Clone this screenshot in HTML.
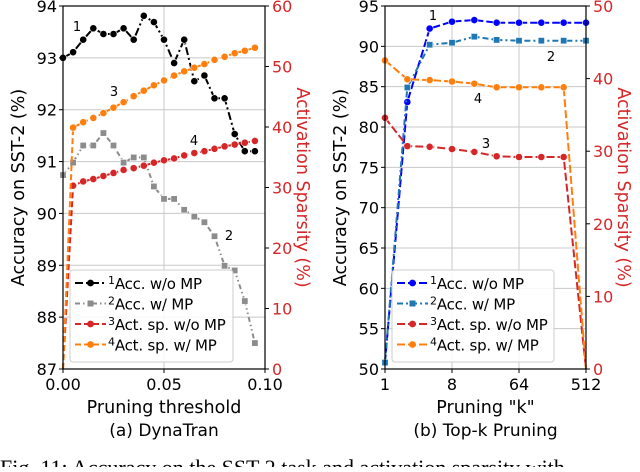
<!DOCTYPE html>
<html><head><meta charset="utf-8"><style>
body{margin:0;background:#fff;width:640px;height:467px;overflow:hidden}
svg{font-family:"DejaVu Sans","Liberation Sans",sans-serif}
</style></head><body>
<svg id="c" width="640" height="467" viewBox="0 0 640 467"></svg>
<script>
// ---- Data: (a) DynaTran ----
const thrX=[0,0.005,0.01,0.015,0.02,0.025,0.03,0.035,0.04,0.045,0.05,0.055,0.06,0.065,0.07,0.075,0.08,0.085,0.09,0.095];
const accNoMP=[93.0,93.11,93.35,93.57,93.46,93.46,93.57,93.35,93.81,93.69,93.35,92.9,93.35,92.55,92.66,92.22,92.22,91.53,91.2,91.2];
const accMP=[90.74,90.98,91.31,91.31,91.55,91.31,90.98,91.08,91.08,90.52,90.28,90.28,90.07,89.94,89.83,89.56,88.99,88.9,88.31,87.5];
const spNoMP=[0,30.3,31.0,31.4,31.9,32.4,32.9,33.2,33.6,34.1,34.5,34.8,35.3,35.7,36.0,36.4,36.8,37.1,37.4,37.7];
const spMP=[0,39.9,40.8,41.5,42.3,43.2,44.1,45.1,46.0,46.9,47.7,48.5,49.2,49.8,50.4,51.1,51.6,52.2,52.6,53.1];
const aYTicks=[87,88,89,90,91,92,93,94];
const aY2Ticks=[0,10,20,30,40,50,60];
const aXTicks=[0,0.05,0.1];
const aXLabels=["0.00","0.05","0.10"];
// ---- Data: (b) Top-k ----
const kVals=[1,2,4,8,16,32,64,128,256,512];
const kAccNoMP=[50.8,83.1,92.2,93.06,93.26,92.93,92.93,92.93,92.93,92.93];
const kAccMP=[50.8,84.9,90.2,90.45,91.2,90.8,90.7,90.7,90.7,90.7];
const kSpNoMP=[34.6,30.7,30.6,30.3,29.9,29.3,29.2,29.2,29.2,0];
const kSpMP=[42.5,39.9,39.8,39.6,39.3,38.8,38.8,38.8,38.8,0];
const bYTicks=[50,55,60,65,70,75,80,85,90,95];
const bY2Ticks=[0,10,20,30,40,50];
const bXTicks=[1,8,64,512];

const NS="http://www.w3.org/2000/svg";
const svg=document.getElementById('c');
function el(tag,attrs,parent,text){const e=document.createElementNS(NS,tag);for(const k in attrs)e.setAttribute(k,attrs[k]);if(text!==undefined)e.textContent=text;(parent||svg).appendChild(e);return e;}

const RED="#d62728",ORANGE="#ff7f0e",GRAY="#8c8c8c",BLUE="#0000ff",TEAL="#1f77b4";

function panel(o){
  const g=el('g',{});
  
  
  const {x0,x1,y0,y1}=o;
  const sx=v=>x0+(o.xf(v)-o.xf(o.xmin))/(o.xf(o.xmax)-o.xf(o.xmin))*(x1-x0);
  const sy=v=>y1-(v-o.ymin)/(o.ymax-o.ymin)*(y1-y0);
  const sy2=v=>y1-(v-o.y2min)/(o.y2max-o.y2min)*(y1-y0);
  o.xt.forEach(v=>{const l=el('line',{x1:sx(v),x2:sx(v),y1:y0,y2:y1,stroke:"#c8c8c8","stroke-width":1},g);});
  o.yt.forEach(v=>{const l=el('line',{x1:x0,x2:x1,y1:sy(v),y2:sy(v),stroke:"#c8c8c8","stroke-width":1},g);});
  o.series.forEach(s=>{
    const ys=s.right?sy2:sy;
    const pts=s.x.map((xv,i)=>sx(xv).toFixed(1)+","+ys(s.y[i]).toFixed(1)).join(" ");
    const pl=el('polyline',{points:pts,fill:"none",stroke:s.c,"stroke-width":2,"stroke-dasharray":s.dash},g);
    
    
    s.x.forEach((xv,i)=>{
      if(s.skip&&s.skip.includes(i))return;
      const cx=sx(xv),cy=ys(s.y[i]);
      let m;
      if(s.sq)m=el('rect',{x:cx-3.2,y:cy-3.2,width:6.4,height:6.4,fill:s.c,stroke:"#fff","stroke-width":0.6},g);
      else m=el('circle',{cx:cx,cy:cy,r:3.6,fill:s.c,stroke:"#fff","stroke-width":0.6},g);
      
      
    });
  });
  const fr=el('rect',{x:x0,y:y0,width:x1-x0,height:y1-y0,fill:"none",stroke:"#000","stroke-width":1.2},g);
  
  o.xt.forEach((v,i)=>{el('line',{x1:sx(v),x2:sx(v),y1:y1,y2:y1+4,stroke:"#000"},g);
    const t=el('text',{x:sx(v),y:y1+21,"text-anchor":"middle","font-size":16},g,o.xl[i]);});
  o.yt.forEach(v=>{el('line',{x1:x0-4,x2:x0,y1:sy(v),y2:sy(v),stroke:"#000"},g);
    const t=el('text',{x:x0-6,y:sy(v)+6,"text-anchor":"end","font-size":16},g,String(v));});
  o.y2t.forEach(v=>{el('line',{x1:x1,x2:x1+4,y1:sy2(v),y2:sy2(v),stroke:"#000"},g);
    const t=el('text',{x:x1+7,y:sy2(v)+6,"font-size":16,fill:RED},g,String(v));});
  let t=el('text',{x:(x0+x1)/2,y:y1+44,"text-anchor":"middle","font-size":17.5},g,o.xlabel);
  t=el('text',{x:(x0+x1)/2,y:y1+67,"text-anchor":"middle","font-size":17},g,o.sub);
  t=el('text',{x:0,y:0,"text-anchor":"middle","font-size":17.5,transform:`translate(${x0-39},${(y0+y1)/2}) rotate(-90)`},g,"Accuracy on SST-2 (%)");
  t=el('text',{x:0,y:0,"text-anchor":"middle","font-size":17.5,fill:RED,transform:`translate(${x1+32},${(y0+y1)/2}) rotate(90)`},g,"Activation Sparsity (%)");
  o.ann.forEach(a=>{const t=el('text',{x:a[1],y:a[2],"font-size":13,"text-anchor":"middle"},g,a[0]);});
  const L=o.leg;
  const lg=el('g',{},g);
  el('rect',{x:L.x,y:L.y,width:L.w,height:92,fill:"#fff","fill-opacity":0.85,stroke:"#ccc",rx:3},lg);
  o.series.forEach((s,i)=>{
    const yy=L.y+13+i*20.5;
    const eg=el('g',{},lg);
    el('line',{x1:L.x+5,x2:L.x+36,y1:yy,y2:yy,stroke:s.c,"stroke-width":2,"stroke-dasharray":s.dash},eg);
    if(s.sq)el('rect',{x:L.x+17.5,y:yy-3,width:6,height:6,fill:s.c},eg);else el('circle',{cx:L.x+20.5,cy:yy,r:3.4,fill:s.c},eg);
    const tx=el('text',{x:L.x+38,y:yy+6,"font-size":15,"letter-spacing":-0.2},eg);
    el('tspan',{"font-size":11,dy:-5},tx,String(i+1));
    el('tspan',{dy:5},tx,s.label);
  });
}

panel({name:'dynatran-panel',x0:63,x1:265,y0:6,y1:369,xmin:0,xmax:0.1,xf:v=>v,ymin:87,ymax:94,y2min:0,y2max:60,
  xt:aXTicks,xl:aXLabels,yt:aYTicks,y2t:aY2Ticks,xlabel:"Pruning threshold",sub:"(a) DynaTran",
  series:[
    {name:'acc-without-mp',x:thrX,y:accNoMP,c:"#000",dash:"8,3,2,3",label:"Acc. w/o MP"},
    {name:'acc-with-mp',x:thrX,y:accMP,c:GRAY,dash:"5,3,1.5,3,1.5,3",sq:true,label:"Acc. w/ MP"},
    {name:'act-sparsity-without-mp',x:thrX,y:spNoMP,right:true,c:RED,dash:"6,3",skip:[0],label:"Act. sp. w/o MP"},
    {name:'act-sparsity-with-mp',x:thrX,y:spMP,right:true,c:ORANGE,dash:"6,3",skip:[0],label:"Act. sp. w/ MP"}],
  ann:[["1",77,31],["3",114,96],["4",194,145],["2",229,240]],
  leg:{x:70,y:270,w:163}});

panel({name:'topk-panel',x0:385,x1:586,y0:6,y1:369,xmin:1,xmax:512,xf:v=>Math.log2(v),ymin:50,ymax:95,y2min:0,y2max:50,
  xt:bXTicks,xl:bXTicks.map(String),yt:bYTicks,y2t:bY2Ticks,xlabel:'Pruning "k"',sub:"(b) Top-k Pruning",
  series:[
    {name:'acc-without-mp',x:kVals,y:kAccNoMP,c:BLUE,dash:"8,3",label:"Acc. w/o MP"},
    {name:'acc-with-mp',x:kVals,y:kAccMP,c:TEAL,dash:"6,3,2,3",sq:true,label:"Acc. w/ MP"},
    {name:'act-sparsity-without-mp',x:kVals,y:kSpNoMP,right:true,c:RED,dash:"8,3",skip:[9],label:"Act. sp. w/o MP"},
    {name:'act-sparsity-with-mp',x:kVals,y:kSpMP,right:true,c:ORANGE,dash:"8,3",skip:[9],label:"Act. sp. w/ MP"}],
  ann:[["1",433,20],["2",551,61],["4",478,103],["3",486,148]],
  leg:{x:392,y:270,w:162}});

const cap=el('text',{x:0,y:475,"font-size":22,"font-family":"Liberation Serif, serif"},svg,"Fig. 11: Accuracy on the SST-2 task and activation sparsity with");


</script>
</body></html>
